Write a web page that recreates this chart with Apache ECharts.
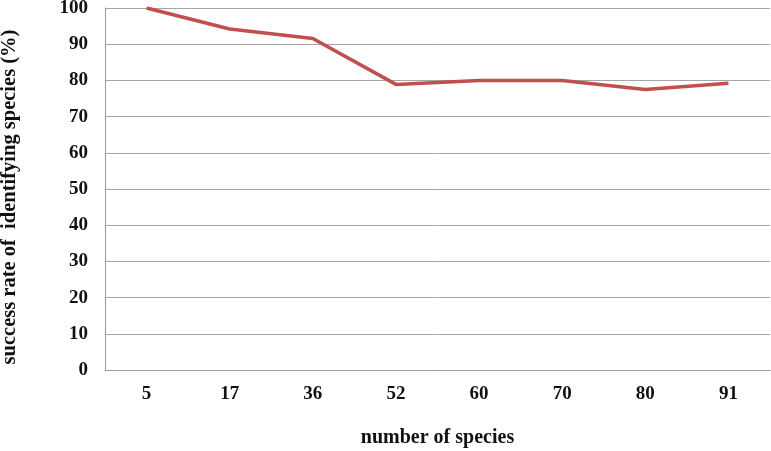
<!DOCTYPE html>
<html><head><meta charset="utf-8">
<script src="https://cdn.jsdelivr.net/npm/echarts@6/dist/echarts.min.js"></script>
<style>html,body{margin:0;padding:0;background:#fff}#c{width:771px;height:451px}</style>
</head><body><div id="c"></div>
<script>
const categories = ['5','17','36','52','60','70','80','91'];
const successRate = [100, 94.2, 91.6, 78.9, 80.0, 80.0, 77.5, 79.2];
const xTitle = 'number of species';
const yTitle = 'success rate of  identifying species (%)';

const chart = echarts.init(document.getElementById('c'), null, {renderer:'canvas'});
const font = '"Liberation Serif","Times New Roman",serif';
chart.setOption({
  animation:false,
  grid:{left:105, right:1, top:8, bottom:81, containLabel:false, outerBoundsMode:'none'},
  xAxis:{
    type:'category', data:categories, boundaryGap:true,
    name:xTitle, nameLocation:'middle', nameGap:58,
    nameTextStyle:{fontFamily:font, fontWeight:'bold', fontSize:20, color:'#111'},
    axisLine:{show:true, lineStyle:{color:'#9a9a9a', width:1}},
    axisTick:{show:false},
    axisLabel:{fontFamily:font, fontWeight:'bold', fontSize:19, color:'#111', margin:15},
    splitLine:{show:false}
  },
  yAxis:{
    type:'value', min:0, max:100, interval:10,
    name:yTitle, nameLocation:'middle', nameGap:85, nameRotate:90,
    nameTextStyle:{fontFamily:font, fontWeight:'bold', fontSize:20.5, color:'#111', padding:[0,16,0,0]},
    axisLine:{show:true, lineStyle:{color:'#9a9a9a', width:1}},
    axisTick:{show:false},
    axisLabel:{fontFamily:font, fontWeight:'bold', fontSize:19, color:'#111', margin:17},
    splitLine:{show:true, lineStyle:{color:'#a6a6a6', width:1}}
  },
  series:[{
    type:'line', data:successRate, showSymbol:false, symbol:'none',
    lineStyle:{color:'#C0504D', width:3.5}
  }]
});
</script></body></html>
